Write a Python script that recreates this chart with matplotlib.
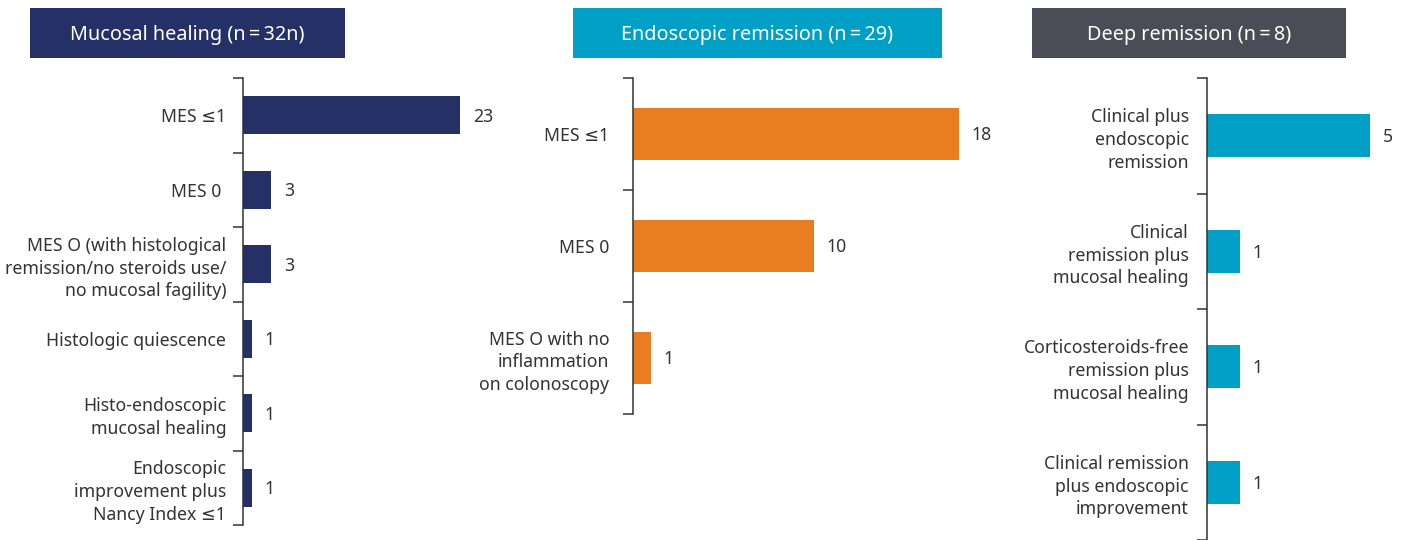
import matplotlib
matplotlib.use("Agg")
import matplotlib.pyplot as plt
from matplotlib.patches import Rectangle
import numpy as np

plt.rcParams['font.family'] = ['Noto Sans', 'DejaVu Sans']

# ---- data -------------------------------------------------------------
mh_title = "Mucosal healing (n\u2009=\u200932n)"
mh_labels = [
    "MES \u22641",
    "MES 0 ",
    "MES O (with histological\nremission/no steroids use/\nno mucosal fagility)",
    "Histologic quiescence",
    "Histo-endoscopic\nmucosal healing",
    "Endoscopic\nimprovement plus\nNancy Index \u22641",
]
mh_values = [23, 3, 3, 1, 1, 1]

er_title = "Endoscopic remission (n\u2009=\u200929)"
er_labels = [
    "MES \u22641",
    "MES 0",
    "MES O with no\ninflammation\non colonoscopy",
]
er_values = [18, 10, 1]

dr_title = "Deep remission (n\u2009=\u20098)"
dr_labels = [
    "Clinical plus\nendoscopic\nremission",
    "Clinical\nremission plus\nmucosal healing",
    "Corticosteroids-free\nremission plus\nmucosal healing",
    "Clinical remission\nplus endoscopic\nimprovement",
]
dr_values = [5, 1, 1, 1]

# ---- styling ----------------------------------------------------------
W, H = 1407, 540
NAVY = "#243066"
ORANGE = "#E87D22"
TEAL = "#00A0C6"
SLATE = "#4A4D55"
TEXT = "#333333"
LABEL_FS = 12.7
TITLE_FS = 14.3

fig = plt.figure(figsize=(W / 100, H / 100), dpi=100)


def px_axes(x0, x1, y0, y1):
    """Axes placed by pixel edges (y measured from the top)."""
    return fig.add_axes([x0 / W, 1 - y1 / H, (x1 - x0) / W, (y1 - y0) / H])


def title_box(x0, x1, y0, y1, text, color):
    fig.patches.append(Rectangle((x0 / W, 1 - y1 / H), (x1 - x0) / W, (y1 - y0) / H,
                                 transform=fig.transFigure, facecolor=color,
                                 edgecolor="none", zorder=0))
    fig.text((x0 + x1) / 2 / W, 1 - ((y0 + y1) / 2 + 2) / H, text, color="white",
             fontsize=TITLE_FS, ha="center", va="center")


def panel(ax, labels, values, color, xmax, bar_h, label_pad):
    n = len(labels)
    y = np.arange(n)
    ax.barh(y, values, height=bar_h, color=color, zorder=2)
    ax.set_ylim(n - 0.5, -0.5)
    ax.set_xlim(0, xmax)
    ax.set_yticks(y)
    ax.set_yticklabels(labels, fontsize=LABEL_FS, color=TEXT, linespacing=1.33)
    ax.set_yticks(np.arange(n + 1) - 0.5, minor=True)
    ax.tick_params(axis="y", which="major", length=0, pad=label_pad)
    ax.tick_params(axis="y", which="minor", length=7.5, width=1.1, color=TEXT)
    ax.set_xticks([])
    for s in ("top", "right", "bottom"):
        ax.spines[s].set_visible(False)
    ax.spines["left"].set_color(TEXT)
    ax.spines["left"].set_linewidth(1.1)
    ax.patch.set_alpha(0)
    for yi, v in zip(y, values):
        ax.annotate(f"{v}", (v, yi), xytext=(9, -1), textcoords="offset points",
                    ha="left", va="center", fontsize=LABEL_FS, color=TEXT)


# Mucosal healing
title_box(30, 345, 8, 58, mh_title, NAVY)
ax1 = px_axes(243, 520, 78, 525)
panel(ax1, mh_labels, mh_values, NAVY, 277 / 9.45, 0.51, 12)

# Endoscopic remission
title_box(573, 942, 8, 58, er_title, TEAL)
ax2 = px_axes(633, 1000, 78, 414)
panel(ax2, er_labels, er_values, ORANGE, 367 / 18.1, 0.47, 17)

# Deep remission
title_box(1032, 1346, 8, 58, dr_title, SLATE)
ax3 = px_axes(1207, 1407, 78, 540)
panel(ax3, dr_labels, dr_values, TEAL, 200 / 32.6, 0.37, 13)

fig.savefig("out.png", dpi=100, facecolor="white")
